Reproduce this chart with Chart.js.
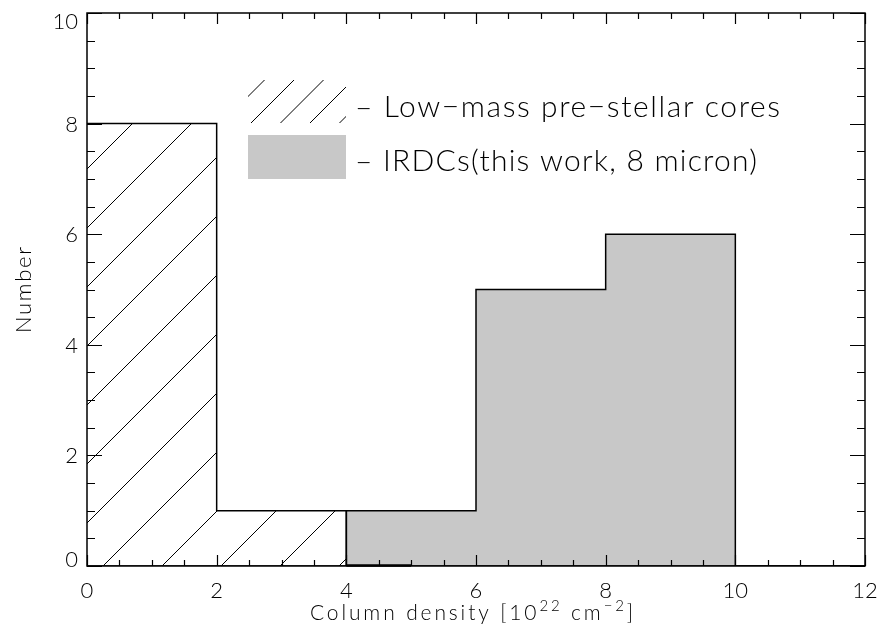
<!DOCTYPE html>
<html>
<head>
<meta charset="utf-8">
<script src="https://cdn.jsdelivr.net/npm/chart.js@4.4.1/dist/chart.umd.min.js"></script>
<style>
  html, body { margin: 0; padding: 0; background: #fff; }
  #wrap { width: 883px; height: 636px; }
</style>
</head>
<body>
<div id="wrap"><canvas id="histChart" width="883" height="636"></canvas></div>
<script>
// histogram bins (column density, 1e22 cm^-2) and counts
const binEdges = [0, 2, 4, 6, 8, 10, 12];
const lowMassCounts = [8, 1, 0, 0, 0, 0];
const irdcCounts = [0, 0, 1, 5, 6, 0];
const seriesLabels = ['Low\u2212mass pre\u2212stellar cores', 'IRDCs(this work, 8 micron)'];
const xTicks = [0, 2, 4, 6, 8, 10, 12];
const yTicks = [0, 2, 4, 6, 8, 10];

const FONT = 'Lato, "DejaVu Sans", sans-serif';
const GRAY = '#c8c8c8';

// step outline points: one point per bin left edge + closing point
function stepPoints(counts) {
  const pts = counts.map((c, i) => ({ x: binEdges[i], y: c }));
  pts.push({ x: binEdges[binEdges.length - 1], y: 0 });
  return pts;
}

// diagonal hatch, anchored to canvas origin
function makeHatch(ctx, offsets) {
  const size = 59;
  const c = document.createElement('canvas');
  c.width = size; c.height = size;
  const p = c.getContext('2d');
  p.strokeStyle = '#000';
  p.lineWidth = 1;
  offsets.forEach(k => {
    p.beginPath();
    p.moveTo(k + 2, -2);
    p.lineTo(-2, k + 2);
    p.stroke();
  });
  return ctx.createPattern(c, 'repeat');
}

const canvas = document.getElementById('histChart');
const hatch = makeHatch(canvas.getContext('2d'), [20, 79]);
const hatchKey = makeHatch(canvas.getContext('2d'), [20, 49.5, 79, 108.5]);

// fit text to a given pixel width with letter spacing
function fitText(ctx, text, x, y, width) {
  ctx.letterSpacing = '0px';
  const w0 = ctx.measureText(text).width;
  const n = Array.from(text).length;
  const ls = n > 1 ? (width - w0) / (n - 1) : 0;
  ctx.letterSpacing = ls + 'px';
  ctx.textAlign = 'left';
  ctx.fillText(text, x, y);
  ctx.letterSpacing = '0px';
}

const framePlugin = {
  id: 'frame',
  afterDraw(chart) {
    const ctx = chart.ctx;
    const a = chart.chartArea;
    const xs = chart.scales.x, ys = chart.scales.y;
    ctx.save();
    ctx.strokeStyle = '#000';
    ctx.lineWidth = 1.5;
    ctx.strokeRect(a.left, a.top, a.right - a.left, a.bottom - a.top);

    ctx.lineWidth = 1.2;
    ctx.beginPath();
    for (let v = 0; v <= 12.001; v += 0.5) {
      const px = Math.round(xs.getPixelForValue(v)) + 0.5;
      const len = (Math.abs(v % 2) < 1e-6) ? 11 : 6;
      ctx.moveTo(px, a.bottom); ctx.lineTo(px, a.bottom - len);
      ctx.moveTo(px, a.top); ctx.lineTo(px, a.top + len);
    }
    for (let v = 0; v <= 10.001; v += 0.5) {
      const py = Math.round(ys.getPixelForValue(v)) + 0.5;
      const len = (Math.abs(v % 2) < 1e-6) ? 15 : 8;
      ctx.moveTo(a.left, py); ctx.lineTo(a.left + len, py);
      ctx.moveTo(a.right, py); ctx.lineTo(a.right - len, py);
    }
    ctx.stroke();

    // thicker base segment left by the step plot
    ctx.lineWidth = 2.5;
    ctx.beginPath();
    ctx.moveTo(xs.getPixelForValue(4), a.bottom - 0.5);
    ctx.lineTo(xs.getPixelForValue(5), a.bottom - 0.5);
    ctx.stroke();

    // y tick labels, end labels kept inside the frame height
    ctx.fillStyle = '#000';
    ctx.font = '300 22px ' + FONT;
    ctx.textAlign = 'right';
    ctx.textBaseline = 'middle';
    yTicks.forEach(v => {
      const py = Math.min(Math.max(ys.getPixelForValue(v), a.top + 8), a.bottom - 7);
      ctx.fillText(String(v), a.left - 9, py + 1);
    });

    // legend
    const ds = chart.data.datasets;
    ctx.fillStyle = hatchKey;
    ctx.fillRect(248, 80, 98, 43);
    ctx.fillStyle = ds[1].backgroundColor;
    ctx.fillRect(248, 135, 98, 44);
    ctx.fillStyle = '#000';
    ctx.textBaseline = 'alphabetic';
    ctx.font = '300 30px ' + FONT;
    fitText(ctx, '\u2013 ' + ds[0].label, 355, 117, 425);
    fitText(ctx, '\u2013 ' + ds[1].label, 355, 171, 402);

    // y title
    ctx.save();
    ctx.translate(31, 290);
    ctx.rotate(-Math.PI / 2);
    ctx.font = '300 22px ' + FONT;
    fitText(ctx, 'Number', -43, 0, 86);
    ctx.restore();

    // x title with superscripts, stretched to the reference width
    const parts = [
      ['Column density [10', 0], ['22', 1], [' cm', 0], ['\u22122', 1], [']', 0]
    ];
    const base = 620, x0 = 310, target = 323;
    let w0 = 0, n = 0;
    ctx.letterSpacing = '0px';
    parts.forEach(([t, sup]) => {
      ctx.font = sup ? '300 15px ' + FONT : '300 21px ' + FONT;
      w0 += ctx.measureText(t).width;
      n += Array.from(t).length;
    });
    const ls = (target - w0) / (n - 1);
    let x = x0;
    parts.forEach(([t, sup]) => {
      ctx.font = sup ? '300 15px ' + FONT : '300 21px ' + FONT;
      ctx.letterSpacing = ls + 'px';
      ctx.textAlign = 'left';
      ctx.fillText(t, x, sup ? base - 9 : base);
      x += ctx.measureText(t).width;
    });
    ctx.letterSpacing = '0px';
    ctx.restore();
  }
};

new Chart(canvas, {
  type: 'line',
  data: {
    datasets: [
      {
        label: seriesLabels[0],
        data: stepPoints(lowMassCounts),
        stepped: true,
        fill: 'origin',
        backgroundColor: hatch,
        borderColor: '#000',
        borderWidth: 1.5,
        pointRadius: 0
      },
      {
        label: seriesLabels[1],
        data: stepPoints(irdcCounts),
        stepped: true,
        fill: 'origin',
        backgroundColor: GRAY,
        borderColor: '#000',
        borderWidth: 1.5,
        pointRadius: 0
      }
    ]
  },
  options: {
    responsive: false,
    animation: false,
    events: [],
    layout: { padding: { top: 13, right: 18, left: 0, bottom: 0 } },
    plugins: {
      legend: { display: false },
      title: { display: false },
      tooltip: { enabled: false }
    },
    scales: {
      x: {
        type: 'linear',
        min: 0, max: 12,
        grid: { display: false, drawTicks: false },
        border: { display: false },
        afterBuildTicks: s => { s.ticks = xTicks.map(v => ({ value: v })); },
        afterFit: s => { s.height = 70; s.paddingLeft = 0; s.paddingRight = 0; },
        ticks: { color: '#000', padding: 12, maxRotation: 0, font: { family: FONT, size: 22, weight: 300 } }
      },
      y: {
        type: 'linear',
        min: 0, max: 10,
        grid: { display: false, drawTicks: false },
        border: { display: false },
        afterBuildTicks: s => { s.ticks = yTicks.map(v => ({ value: v })); },
        afterFit: s => { s.width = 87; s.paddingTop = 0; s.paddingBottom = 0; },
        ticks: { display: false }
      }
    }
  },
  plugins: [framePlugin]
});
</script>
</body>
</html>
